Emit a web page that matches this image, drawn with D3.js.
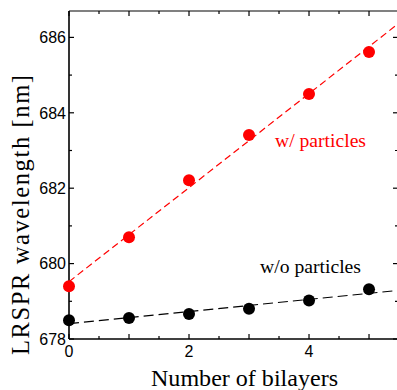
<!DOCTYPE html>
<html><head><meta charset="utf-8">
<script src="https://cdn.jsdelivr.net/npm/d3@7"></script>
<style>body{margin:0;background:#fff}svg{display:block}</style>
</head><body>
<svg id="c" width="397" height="390"></svg>
<script>
const bilayers = [0, 1, 2, 3, 4, 5];
const withParticles = [679.40, 680.70, 682.21, 683.41, 684.50, 685.61];
const withoutParticles = [678.50, 678.56, 678.66, 678.80, 679.02, 679.32];
const xTickLabels = [0, 2, 4];
const yTickLabels = [678, 680, 682, 684, 686];

const W = 397, H = 390;
const m = {left: 69, top: 11, right: 398, bottom: 339};
const x = d3.scaleLinear().domain([0, 5.483]).range([m.left, m.right]);
const y = d3.scaleLinear().domain([678, 686.7]).range([m.bottom, m.top]);
const svg = d3.select("#c");

function fit(xs, ys) {
  const n = xs.length, mx = d3.mean(xs), my = d3.mean(ys);
  let sxy = 0, sxx = 0;
  for (let i = 0; i < n; i++) { sxy += (xs[i]-mx)*(ys[i]-my); sxx += (xs[i]-mx)**2; }
  const b = sxy/sxx; return {a: my - b*mx, b};
}

// top border
svg.append("line").attr("x1", m.left).attr("x2", W).attr("y1", m.top).attr("y2", m.top)
  .attr("stroke", "#808080").attr("stroke-width", 2);

// ticks
const xt = d3.range(0, 5.5, 0.5);
const yt = d3.range(678, 687, 1);
const tg = svg.append("g").attr("stroke", "#000").attr("stroke-width", 1.2);
xt.forEach(v => {
  const len = Number.isInteger(v) ? 5 : 3;
  tg.append("line").attr("x1", x(v)).attr("x2", x(v)).attr("y1", m.bottom).attr("y2", m.bottom - len);
  tg.append("line").attr("x1", x(v)).attr("x2", x(v)).attr("y1", m.top).attr("y2", m.top + len);
});
yt.forEach(v => {
  const len = (v % 2 === 0) ? 5 : 3;
  tg.append("line").attr("x1", m.left).attr("x2", m.left + len).attr("y1", y(v)).attr("y2", y(v));
  tg.append("line").attr("x1", m.right).attr("x2", m.right - len).attr("y1", y(v)).attr("y2", y(v));
});

// axis lines
svg.append("line").attr("x1", m.left).attr("x2", W).attr("y1", m.bottom).attr("y2", m.bottom)
  .attr("stroke", "#000").attr("stroke-width", 1.6);
svg.append("line").attr("x1", m.left).attr("x2", m.left).attr("y1", m.top).attr("y2", m.bottom)
  .attr("stroke", "#000").attr("stroke-width", 1.6);

// tick labels
svg.append("g").selectAll("text").data(xTickLabels).join("text")
  .attr("x", d => x(d)).attr("y", m.bottom + 18).attr("text-anchor", "middle")
  .attr("font-family", "Liberation Sans, Arial, sans-serif").attr("font-size", 16).text(d => d);
svg.append("g").selectAll("text").data(yTickLabels).join("text")
  .attr("x", m.left - 3).attr("y", d => y(d)).attr("dy", "0.36em").attr("text-anchor", "end")
  .attr("font-family", "Liberation Sans, Arial, sans-serif").attr("font-size", 16).text(d => d);

// fit lines
const clip = svg.append("clipPath").attr("id", "pc").append("rect")
  .attr("x", m.left).attr("y", m.top).attr("width", m.right - m.left).attr("height", m.bottom - m.top);
const series = [
  {vals: withParticles, color: "#ff0000", dash: "7,4"},
  {vals: withoutParticles, color: "#000000", dash: "10,5"}
];
series.forEach(s => {
  const f = fit(bilayers, s.vals);
  const x0 = 0, x1 = 5.483;
  svg.append("line").attr("clip-path", "url(#pc)")
    .attr("x1", x(x0)).attr("y1", y(f.a + f.b*x0))
    .attr("x2", x(x1)).attr("y2", y(f.a + f.b*x1))
    .attr("stroke", s.color).attr("stroke-width", 1.2).attr("stroke-dasharray", s.dash);
});
series.forEach(s => {
  svg.append("g").selectAll("circle").data(bilayers).join("circle")
    .attr("cx", d => x(d)).attr("cy", (d, i) => y(s.vals[i])).attr("r", 6).attr("fill", s.color);
});

// annotations
svg.append("text").attr("x", 275).attr("y", 147).attr("fill", "#ff0000")
  .attr("font-family", "Liberation Serif, Times New Roman, serif").attr("font-size", 19.5)
  .attr("textLength", 91).attr("lengthAdjust", "spacingAndGlyphs").text("w/ particles");
svg.append("text").attr("x", 260).attr("y", 273).attr("fill", "#000")
  .attr("font-family", "Liberation Serif, Times New Roman, serif").attr("font-size", 19.5)
  .attr("textLength", 101).attr("lengthAdjust", "spacingAndGlyphs").text("w/o particles");

// axis titles
svg.append("text").attr("x", 151).attr("y", 386)
  .attr("font-family", "Liberation Serif, Times New Roman, serif").attr("font-size", 24)
  .attr("textLength", 187).attr("lengthAdjust", "spacingAndGlyphs").text("Number of bilayers");
svg.append("text").attr("transform", "translate(29,355) rotate(-90)")
  .attr("font-family", "Liberation Serif, Times New Roman, serif").attr("font-size", 24.5)
  .attr("textLength", 280).attr("lengthAdjust", "spacing").text("LRSPR wavelength [nm]");
</script>
</body></html>
